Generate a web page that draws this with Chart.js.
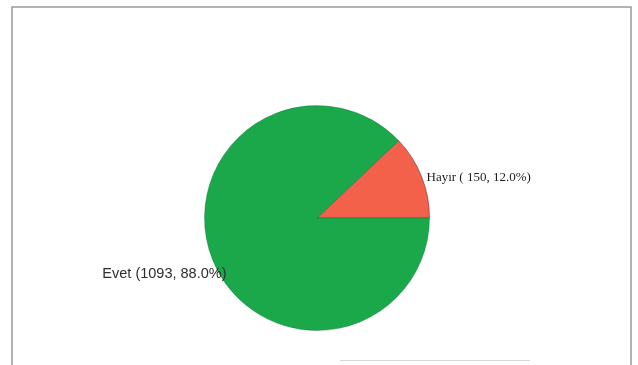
<!DOCTYPE html>
<html>
<head>
<meta charset="utf-8">
<script src="https://cdn.jsdelivr.net/npm/chart.js@4/dist/chart.umd.min.js"></script>
<style>
html,body{margin:0;padding:0;background:#fff;}
#wrap{width:638px;height:365px;position:relative;}
</style>
</head>
<body>
<div id="wrap"><canvas id="c" width="638" height="365"></canvas></div>
<script>
const categories = ["Hayır", "Evet"];
const counts = [150, 1093];
const percents = ["12.0%", "88.0%"];
const sliceColors = ["#f4614a", "#1aa84b"];

const labelPlugin = {
  id: 'sliceLabels',
  beforeDraw(chart) {
    const ctx = chart.ctx;
    ctx.save();
    ctx.strokeStyle = '#9a9a9a';
    ctx.lineWidth = 1.5;
    ctx.beginPath();
    ctx.moveTo(12, 372);
    ctx.lineTo(12, 7);
    ctx.lineTo(631, 7);
    ctx.lineTo(631, 372);
    ctx.stroke();
    ctx.strokeStyle = '#d8d8d8';
    ctx.lineWidth = 1;
    ctx.beginPath();
    ctx.moveTo(340, 360.5);
    ctx.lineTo(530, 360.5);
    ctx.stroke();
    ctx.restore();
  },
  afterDatasetsDraw(chart) {
    const ctx = chart.ctx;
    const meta = chart.getDatasetMeta(0);
    ctx.save();
    meta.data.forEach((arc, i) => {
      const mid = (arc.startAngle + arc.endAngle) / 2;
      const r = arc.outerRadius;
      const ax = arc.x + Math.cos(mid) * r;
      const ay = arc.y + Math.sin(mid) * r;
      ctx.textBaseline = 'middle';
      if (i === 0) {
        ctx.font = '13px "Liberation Serif", "DejaVu Serif", serif';
        ctx.fillStyle = '#1e1e1e';
        ctx.textAlign = 'left';
        ctx.fillText(categories[i] + ' ( ' + counts[i] + ', ' + percents[i] + ')', ax + 5, ay + 1);
      } else {
        ctx.font = '14.5px "Liberation Sans", Arial, sans-serif';
        ctx.fillStyle = '#2e2e2e';
        ctx.textAlign = 'right';
        ctx.fillText(categories[i] + ' (' + counts[i] + ', ' + percents[i] + ')', ax + 14, ay + 14);
      }
    });
    ctx.restore();
  }
};

new Chart(document.getElementById('c'), {
  type: 'pie',
  data: {
    labels: categories,
    datasets: [{
      data: counts,
      backgroundColor: sliceColors,
      borderColor: ['rgba(120,40,70,0.6)', 'rgba(20,110,60,0.35)'],
      borderWidth: 1
    }]
  },
  options: {
    responsive: false,
    animation: false,
    rotation: 90 - 360 * counts[0] / (counts[0] + counts[1]),
    layout: { padding: { top: 105, bottom: 34, left: 100, right: 104 } },
    plugins: {
      legend: { display: false },
      tooltip: { enabled: false },
      title: { display: false }
    }
  },
  plugins: [labelPlugin]
});
</script>
</body>
</html>
